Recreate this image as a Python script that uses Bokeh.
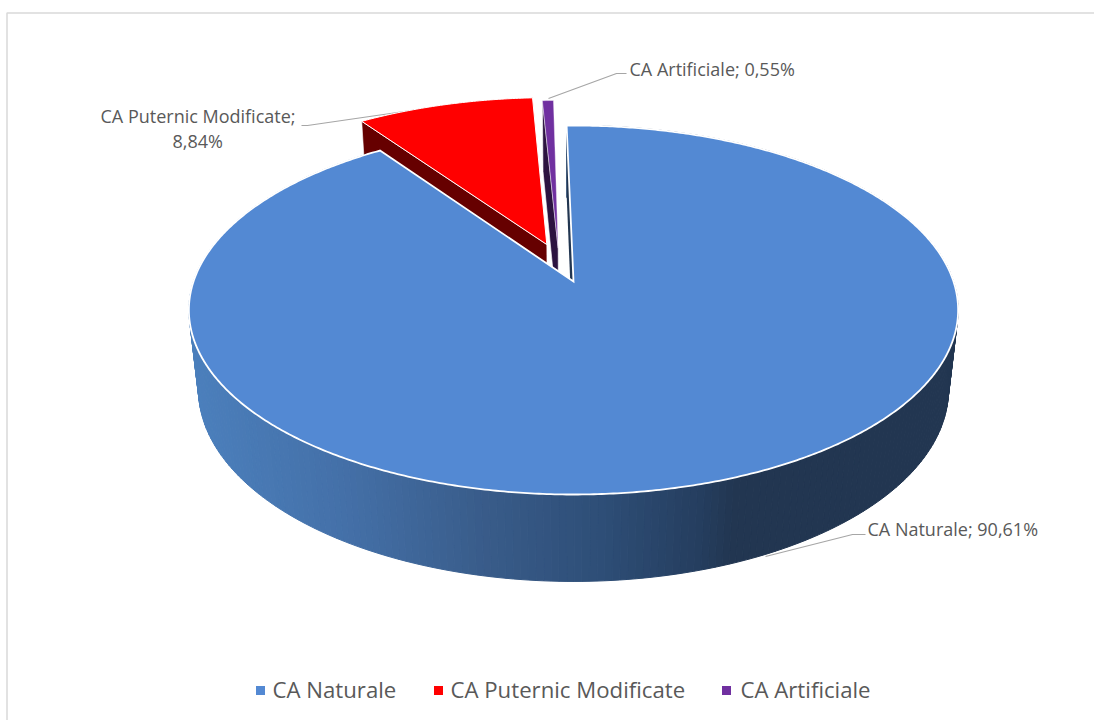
import math
from bokeh.plotting import figure
from bokeh.embed import file_html
from bokeh.resources import INLINE
from bokeh.core.properties import value

# ---- data ----
categories = ["CA Naturale", "CA Puternic Modificate", "CA Artificiale"]
shares = [90.61, 8.84, 0.55]
face_colors = ["#5389D3", "#FF0000", "#7030A0"]
wall_colors = ["#223651", "#660000", "#2C1340"]
share_labels = ["90,61%", "8,84%", "0,55%"]

# ---- pie geometry (window pixels) ----
START = -1.2
CX, CY = 573.0, 281.0
A, B, C, K, M = 380.0, 180.1, 81.0, 0.1545, 0.025
SHIFT = [(0.0, 0.0), (-0.0725, 0.212), (-0.0415, 0.19)]
OUTLINE = [1.8, 1.0, 0.4]

def project(th, r, idx, z=0.0):
    t = math.radians(th)
    X = r * math.sin(t) + SHIFT[idx][0]
    Y = r * math.cos(t) + SHIFT[idx][1]
    w = 1 + K * Y + M * z
    return CX + A * X / w, CY + (-B * Y + C * z) / w

angles = []
a0 = START
for v in shares:
    a1 = a0 + v / sum(shares) * 360.0
    angles.append((a0, a1))
    a0 = a1

def arc(a, b, idx, z=0.0, step=0.5):
    n = max(2, int(abs(b - a) / step) + 1)
    return [project(a + (b - a) * i / (n - 1), 1.0, idx, z) for i in range(n)]

STOPS = [(190, (75, 127, 188)), (340, (68, 112, 168)), (480, (57, 92, 138)),
         (600, (46, 78, 119)), (700, (37, 62, 95)), (735, (34, 54, 81))]

def wall_color(x):
    if x <= STOPS[0][0]:
        c = STOPS[0][1]
    elif x >= STOPS[-1][0]:
        c = STOPS[-1][1]
    else:
        for (x0, c0), (x1, c1) in zip(STOPS, STOPS[1:]):
            if x0 <= x <= x1:
                f = (x - x0) / (x1 - x0)
                c = tuple(c0[i] + (c1[i] - c0[i]) * f for i in range(3))
                break
    return "#%02x%02x%02x" % tuple(int(round(v)) for v in c)

p = figure(width=1094, height=720, x_range=(0, 1094), y_range=(720, 0),
           toolbar_location=None, output_backend="svg", min_border=0,
           outline_line_color=None, background_fill_color="white",
           border_fill_color="white")
p.axis.visible = False
p.grid.visible = False

# frame
p.line([6.5, 6.5, 1094], [720, 12.5, 12.5], line_color="#D9D9D9", line_width=1.5)

# leader lines
LEADER_GRAY = "#A6A6A6"
p.line([301, 307, 445], [125, 125, 105], line_color=LEADER_GRAY, line_width=1.2)
p.line([548, 616, 626], [98, 73, 73], line_color=LEADER_GRAY, line_width=1.2)
p.line([865, 852, 765], [534, 534, 556], line_color=LEADER_GRAY, line_width=1.2)

# radial walls of the two small slices
for idx in (1, 2):
    a = angles[idx][0]
    pts = [project(a, 0.0, idx), project(a, 1.0, idx), project(a, 1.0, idx, 1.0), project(a, 0.0, idx, 1.0)]
    p.patch([q[0] for q in pts], [q[1] for q in pts], fill_color=wall_colors[idx],
            line_color="white", line_width=0.6)

# side wall of the big slice
a, b = angles[0]
xs, ys, cols = [], [], []
top, bot = arc(a, b, 0, step=1.0), arc(a, b, 0, 1.0, step=1.0)
for i in range(len(top) - 1):
    q = [top[i], top[i + 1], bot[i + 1], bot[i]]
    xs.append([u[0] for u in q])
    ys.append([u[1] for u in q])
    cols.append(wall_color((top[i][0] + top[i + 1][0]) / 2))
p.patches(xs, ys, fill_color=cols, line_color=cols, line_width=1)
pts = [project(a, 0.0, 0), project(a, 1.0, 0), project(a, 1.0, 0, 1.0), project(a, 0.0, 0, 1.0)]
p.patch([q[0] for q in pts], [q[1] for q in pts], fill_color=wall_colors[0], line_color=None)

# top faces
for idx in (1, 2, 0):
    a, b = angles[idx]
    pts = [project(a, 0.0, idx)] + arc(a, b, idx)
    p.patch([q[0] for q in pts], [q[1] for q in pts], fill_color=face_colors[idx],
            line_color="white", line_width=OUTLINE[idx], line_join="miter")

# data labels
TEXT = "#595959"
LABEL_FONT = value("Open Sans")
lx = [867, 100, 172, 629]
ly = [528.5, 115.5, 140.5, 68.5]
lt = [f"{categories[0]}; {share_labels[0]}", f"{categories[1]};", share_labels[1],
      f"{categories[2]}; {share_labels[2]}"]
p.text(lx, ly, text=lt, text_font=LABEL_FONT, text_font_size="18px", text_color=TEXT,
       text_align="left", text_baseline="middle")

# legend
swatch_x = [260, 438, 726]
legend_x = [272, 450, 740]
legend_y = [689, 689, 689]
p.rect(swatch_x, [690, 690, 690], width=9, height=9, fill_color=face_colors, line_color=None)
p.text(legend_x, legend_y, text=categories, text_font=LABEL_FONT, text_font_size="22.2px",
       text_color=TEXT, text_align="left", text_baseline="middle")

open("out.html", "w").write(file_html(p, INLINE))
